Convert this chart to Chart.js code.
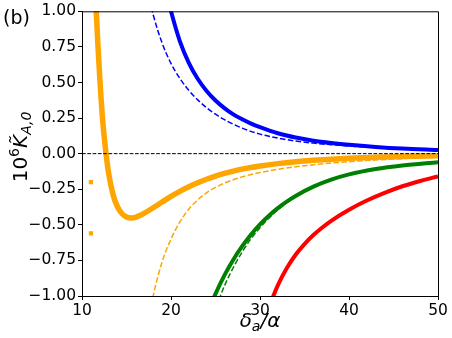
<!DOCTYPE html>
<html>
<head>
<meta charset="utf-8">
<script src="https://cdn.jsdelivr.net/npm/chart.js@4/dist/chart.umd.min.js"></script>
<style>
  html, body { margin: 0; padding: 0; background: #fff; }
  canvas { display: block; }
</style>
</head>
<body>
<canvas id="chart" width="452" height="338"></canvas>
<script>
// axis ticks
const xTicks = [10, 20, 30, 40, 50];
const yTicks = [-1, -0.75, -0.5, -0.25, 0, 0.25, 0.5, 0.75, 1];

// blue (solid = full, dashed = approx)
const blueX     = [19.8, 20, 21, 22, 23, 24, 25, 26, 27, 28, 29, 30, 32, 34, 36, 38, 40, 43, 46, 50];
const blueSolid = [1.05, 1.0, 0.789, 0.638, 0.526, 0.44, 0.373, 0.32, 0.276, 0.241, 0.211, 0.186, 0.143, 0.113, 0.091, 0.075, 0.062, 0.047, 0.0355, 0.025];
const blueDashX = [17.8, 18, 19, 20, 21, 22, 23, 24, 25, 26, 27, 28, 30, 32, 34, 36, 38, 40, 43, 46, 50];
const blueDash  = [1.03, 0.976, 0.777, 0.634, 0.528, 0.445, 0.378, 0.323, 0.277, 0.239, 0.207, 0.179, 0.137, 0.109, 0.089, 0.074, 0.063, 0.054, 0.043, 0.034, 0.022];

// orange
const orangeX     = [11.5, 11.6, 11.8, 12.0, 12.3, 12.7, 13.0, 13.5, 14.0, 14.5, 15.0, 15.6, 16, 16.5, 17, 18, 19, 20, 21, 22, 23, 24, 25, 26, 27, 28, 30, 32, 34, 36, 38, 40, 43, 46, 50];
const orangeSolid = [1.14, 1.0, 0.75, 0.53, 0.25, 0.0, -0.14, -0.29, -0.375, -0.422, -0.445, -0.452, -0.448, -0.435, -0.418, -0.38, -0.34, -0.3, -0.265, -0.233, -0.205, -0.18, -0.158, -0.139, -0.123, -0.109, -0.087, -0.07, -0.057, -0.047, -0.039, -0.033, -0.026, -0.02, -0.014];
const orangeDashX = [17.8, 18, 19, 20, 21, 22, 23, 24, 25, 26, 28, 30, 32, 35, 38, 41, 45, 50];
const orangeDash  = [-1.07, -1.0, -0.76, -0.6, -0.48, -0.39, -0.325, -0.275, -0.237, -0.207, -0.163, -0.133, -0.11, -0.085, -0.066, -0.052, -0.038, -0.025];
const orangeStrayX = [11.0, 11.0];
const orangeStray  = [-0.2, -0.56];

// green
const greenX     = [24.7, 25, 26, 27, 28, 29, 30, 31, 32, 33, 34, 36, 38, 40, 43, 46, 50];
const greenSolid = [-1.03, -0.985, -0.855, -0.745, -0.65, -0.568, -0.497, -0.436, -0.383, -0.337, -0.297, -0.232, -0.183, -0.146, -0.108, -0.083, -0.06];
const greenDashX = [25.4, 25.5, 26, 27, 28, 29, 30, 31, 32, 33, 34, 36, 38, 40, 43, 46, 50];
const greenDash  = [-1.03, -1.01, -0.93, -0.8, -0.69, -0.597, -0.52, -0.453, -0.395, -0.345, -0.303, -0.236, -0.186, -0.148, -0.11, -0.084, -0.061];

// red
const redX     = [31.3, 31.5, 32, 33, 34, 35, 36, 37, 38, 40, 42, 44, 46, 48, 50];
const redSolid = [-1.034, -1.0, -0.925, -0.805, -0.71, -0.635, -0.572, -0.519, -0.472, -0.394, -0.329, -0.275, -0.229, -0.192, -0.16];

// zero reference
const zeroX = [10, 50];
const zeroY = [0, 0];

const pts = (xs, ys) => xs.map((x, i) => ({ x: x, y: ys[i] }));

function solid(xs, ys, color, w) {
    return {
        data: pts(xs, ys), borderColor: color, borderWidth: w,
        pointRadius: 0, fill: false, cubicInterpolationMode: 'monotone', clip: 0
    };
}
function dashed(xs, ys, color) {
    const d = solid(xs, ys, color, 1.5);
    d.borderDash = [5.5, 2.4];
    return d;
}

const zeroLine = solid(zeroX, zeroY, '#000', 1);
zeroLine.borderDash = [3.7, 1.6];

const stray = {
    data: pts(orangeStrayX, orangeStray), showLine: false,
    pointStyle: 'rect', pointRadius: 3, backgroundColor: 'orange',
    borderWidth: 0, clip: 0
};

const fmt = v => v.toFixed(2).replace('-', '\u2212');

// text that chart.js titles can not do (sub/superscripts, panel tag, top/right spines)
const decor = {
    id: 'decor',
    afterDraw(chart) {
        const ctx = chart.ctx;
        const a = chart.chartArea;
        ctx.save();
        ctx.strokeStyle = '#000';
        ctx.lineWidth = 1;
        ctx.beginPath();
        ctx.moveTo(a.left, a.top + 0.5);
        ctx.lineTo(a.right + 0.5, a.top + 0.5);
        ctx.lineTo(a.right + 0.5, a.bottom);
        ctx.stroke();

        ctx.fillStyle = '#000';
        ctx.textBaseline = 'alphabetic';

        // panel tag
        ctx.font = '19px "DejaVu Sans"';
        ctx.textAlign = 'left';
        ctx.fillText('(b)', 3, 24);

        // x title: δ_a/α
        const big = 'italic 20px "DejaVu Sans"';
        const sub = 'italic 14px "DejaVu Sans"';
        const xParts = [['\u03b4', big, 0], ['a', sub, 4], ['/\u03b1', big, 0]];
        drawParts(ctx, xParts, (a.left + a.right) / 2, 327);

        // y title: 10^6 K~_{A,0}
        ctx.translate(27, 147);
        ctx.rotate(-Math.PI / 2);
        const yParts = [
            ['10', '20px "DejaVu Sans"', 0],
            ['6', '14px "DejaVu Sans"', -8],
            ['K\u0303', big, 0],
            ['A,0', sub, 4]
        ];
        drawParts(ctx, yParts, 0, 0);
        ctx.restore();
    }
};

function drawParts(ctx, parts, cx, base) {
    let total = 0;
    parts.forEach(p => { ctx.font = p[1]; total += ctx.measureText(p[0]).width; });
    let x = cx - total / 2;
    ctx.textAlign = 'left';
    parts.forEach(p => {
        ctx.font = p[1];
        ctx.fillText(p[0], x, base + p[2]);
        x += ctx.measureText(p[0]).width;
    });
}

new Chart(document.getElementById('chart'), {
    type: 'line',
    data: {
        datasets: [
            zeroLine,
            solid(blueX, blueSolid, 'blue', 4),
            dashed(blueDashX, blueDash, 'blue'),
            solid(orangeX, orangeSolid, 'orange', 5.5),
            dashed(orangeDashX, orangeDash, 'orange'),
            stray,
            solid(greenX, greenSolid, 'green', 4),
            dashed(greenDashX, greenDash, 'green'),
            solid(redX, redSolid, 'red', 4)
        ]
    },
    options: {
        responsive: false,
        animation: false,
        devicePixelRatio: 1,
        layout: { padding: { left: 0, top: 10, right: 14, bottom: 0 } },
        plugins: { legend: { display: false }, tooltip: { enabled: false } },
        scales: {
            x: {
                type: 'linear', min: 10, max: 50,
                afterBuildTicks: s => { s.ticks = xTicks.map(v => ({ value: v })); },
                afterFit: s => { s.height = 42; },
                grid: { drawOnChartArea: false, drawTicks: true, tickLength: 4, color: '#000' },
                border: { display: true, color: '#000', width: 1 },
                ticks: { color: '#000', font: { family: 'DejaVu Sans', size: 15.5 }, padding: 2, maxRotation: 0 }
            },
            y: {
                type: 'linear', min: -1, max: 1,
                afterBuildTicks: s => { s.ticks = yTicks.map(v => ({ value: v })); },
                afterFit: s => { s.width = 82; },
                grid: { drawOnChartArea: false, drawTicks: true, tickLength: 4, color: '#000' },
                border: { display: true, color: '#000', width: 1 },
                ticks: { color: '#000', font: { family: 'DejaVu Sans', size: 15.5 }, padding: 2, callback: v => fmt(v) }
            }
        }
    },
    plugins: [decor]
});
</script>
</body>
</html>
